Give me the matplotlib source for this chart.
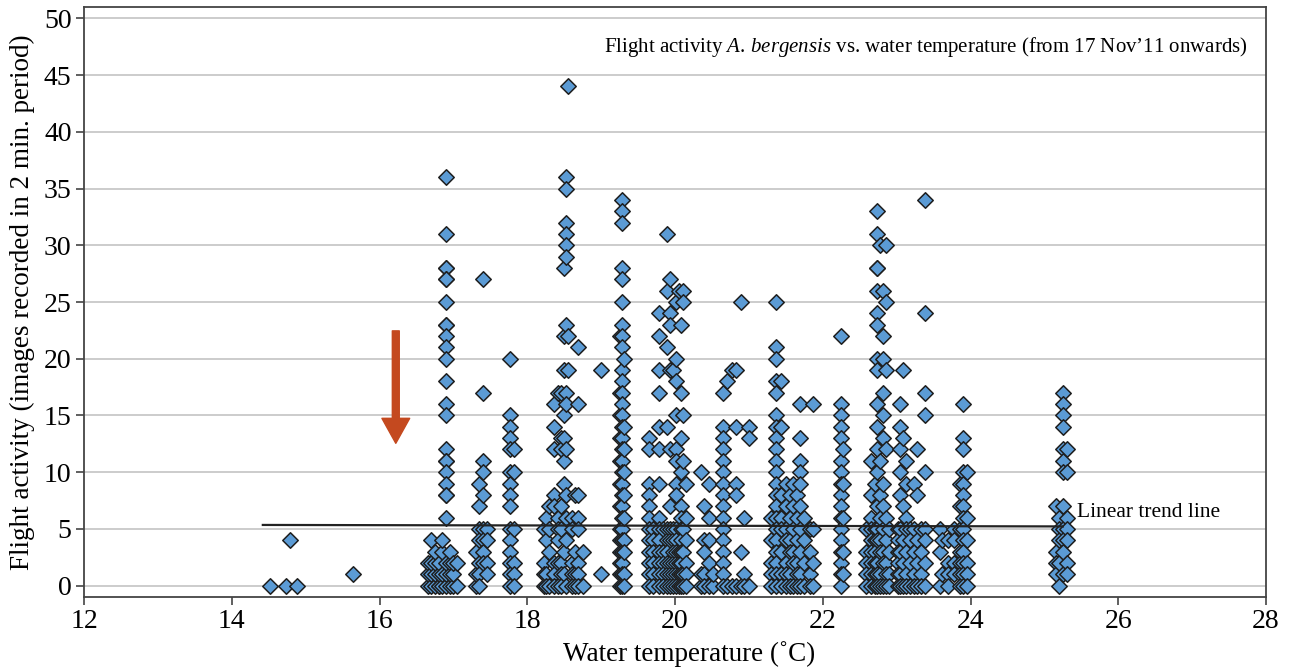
import matplotlib
matplotlib.use("Agg")
import matplotlib.pyplot as plt
from matplotlib.patches import FancyArrowPatch

plt.rcParams["font.family"] = ["Liberation Serif", "DejaVu Serif"]
plt.rcParams["mathtext.fontset"] = "custom"
plt.rcParams["mathtext.rm"] = "Liberation Serif"
plt.rcParams["mathtext.it"] = "Liberation Serif:italic"

# water temperature (deg C) of each vertical group of readings
col_temp = [
    14.52, 14.73, 14.79, 14.88, 15.64,
    16.65, 16.7, 16.75, 16.8, 16.85, 16.9, 16.95, 17.0, 17.05,
    17.3, 17.35, 17.4, 17.45,
    17.77, 17.82,
    18.22, 18.25, 18.3, 18.36, 18.41, 18.45, 18.5, 18.53, 18.55, 18.6, 18.64, 18.69, 18.75,
    19.0,
    19.25, 19.28, 19.31,
    19.65, 19.7, 19.78, 19.84, 19.89, 19.93, 19.97, 20.01, 20.05, 20.08, 20.11, 20.15,
    20.35, 20.39, 20.46, 20.51, 20.65, 20.7, 20.77, 20.83, 20.89, 20.94, 21.0,
    21.3, 21.37, 21.44, 21.5, 21.55, 21.6, 21.65, 21.69, 21.75, 21.82, 21.87,
    22.25, 22.28,
    22.58, 22.65, 22.7, 22.73, 22.78, 22.82, 22.86, 22.9,
    23.02, 23.05, 23.09, 23.13, 23.18, 23.24, 23.28, 23.33, 23.38,
    23.58, 23.62, 23.7, 23.78, 23.86, 23.9, 23.95,
    25.15, 25.2, 25.25, 25.3,
]

# flight activity (images per 2 min.) recorded at each of those temperatures
col_counts = [
    [0], [0], [4], [0], [1],
    [0, 1, 2], [0, 1, 4, 2], [0, 1, 2, 3], [0, 0, 1, 2], [0, 1, 3, 4],
    [36, 31, 28, 28, 27, 27, 25, 23, 23, 22, 21, 20, 18, 16, 15, 12, 11, 11, 10, 9, 8, 8, 6, 0, 1, 2],
    [0, 1, 2, 3], [0, 1, 2], [0, 2],
    [0, 3, 1], [5, 4, 2, 1, 0, 9, 7], [27, 17, 11, 10, 8, 5, 4, 3, 2], [5, 4, 2, 1],
    [20, 15, 14, 13, 12, 10, 9, 8, 7, 5, 4, 3, 2, 1, 0], [12, 10, 5, 2, 1, 0],
    [5, 2, 1, 0], [6, 4, 1, 0], [7, 5, 3, 0], [16, 14, 12, 8, 7, 2, 1, 0],
    [17, 6, 5, 4, 2, 0], [17, 13, 12, 7, 5, 2, 1, 0], [28, 22, 19, 15, 13, 11, 9, 3, 1],
    [36, 35, 32, 31, 30, 29, 23, 17, 16, 12, 8, 6, 4, 0], [44, 22, 19],
    [6, 5, 2, 1, 0], [8, 3, 1, 0], [21, 16, 8, 6, 5, 2, 1, 0], [3, 0],
    [19, 1],
    [22, 17, 15, 13, 11, 9, 7, 5, 4, 3, 2, 1, 0],
    [34, 33, 32, 28, 27, 25, 23, 22, 21, 19, 18, 17, 16, 15, 14, 13, 12, 11, 10, 9, 8, 7, 6, 5, 4, 3, 2, 1, 0],
    [20, 14, 12, 10, 8, 6, 4, 3, 1, 0],
    [13, 12, 9, 8, 7, 6, 5, 4, 3, 2, 1, 0], [5, 4, 3, 2, 1, 0],
    [24, 22, 19, 17, 14, 12, 9, 6, 5, 4, 3, 2, 1, 0], [5, 3, 2, 1, 0],
    [31, 26, 21, 14, 5, 4, 3, 2, 1, 0], [27, 24, 23, 19, 12, 7, 5, 4, 2, 1, 0],
    [19, 5, 4, 3, 2, 1, 0], [25, 20, 18, 15, 12, 11, 9, 8, 5, 4, 3, 2, 1, 0],
    [26, 3, 2, 1, 0], [23, 17, 13, 10, 7, 6, 5, 4, 3, 2, 1, 0],
    [26, 25, 15, 11, 5, 3, 1, 0], [9, 6, 4, 2, 1, 0],
    [10, 0, 1], [7, 4, 3, 1, 0], [9, 6, 4, 2, 0], [0, 1],
    [17, 14, 13, 12, 11, 10, 9, 8, 7, 6, 5, 4, 3, 2, 1, 0],
    [18, 0], [19, 0], [19, 14, 9, 8, 0], [25, 3, 0], [6, 1, 0], [14, 13, 0],
    [6, 4, 2, 1, 0],
    [25, 21, 20, 18, 17, 15, 14, 13, 12, 11, 10, 9, 8, 7, 6, 5, 4, 3, 2, 1, 0],
    [18, 14, 8, 6, 5, 3, 1, 0], [9, 7, 5, 4, 2, 1, 0], [8, 6, 4, 3, 1, 0],
    [9, 7, 5, 3, 2, 0], [8, 6, 4, 2, 1, 0], [16, 13, 11, 10, 9, 7, 5, 3, 1, 0],
    [6, 4, 2, 0], [5, 3, 1, 0], [16, 5, 2, 0],
    [22, 16, 15, 14, 13, 11, 10, 9, 8, 7, 6, 5, 4, 3, 2, 1, 0], [12, 9, 6, 3, 1],
    [5, 3, 2, 1, 0], [11, 8, 6, 5, 4, 3, 2, 1, 0], [9, 5, 4, 3, 2, 1, 0],
    [33, 31, 28, 28, 26, 24, 23, 20, 19, 16, 14, 12, 10, 7, 5, 4, 2, 1, 0],
    [30, 11, 8, 6, 4, 3, 1, 0], [26, 22, 20, 17, 15, 13, 9, 7, 5, 3, 2, 0],
    [30, 25, 19, 12, 6, 4, 2, 1, 0], [5, 3, 1, 0],
    [5, 4, 3, 2, 1, 0], [16, 14, 12, 10, 8, 5, 3, 1, 0], [19, 13, 7, 4, 2, 0],
    [11, 9, 6, 5, 3, 1, 0], [5, 4, 2, 0], [9, 5, 3, 1, 0], [12, 8, 4, 2, 0],
    [5, 3, 1, 0], [34, 24, 17, 15, 10, 5, 4, 2, 0],
    [5, 3, 0], [4, 1], [4, 2, 1, 0], [5, 4, 2, 1], [9, 7, 5, 3, 2, 1, 0],
    [16, 13, 12, 10, 9, 8, 7, 6, 5, 4, 3, 2, 1, 0], [10, 6, 4, 2, 1, 0],
    [7, 3, 2, 1], [6, 5, 4, 2, 0], [17, 16, 15, 14, 12, 11, 10, 7, 5, 4, 3, 1],
    [12, 10, 6, 5, 4, 2, 1],
]

# linear trend line end points
trend_temp = [14.42, 25.25]
trend_count = [5.35, 5.22]

x_ticks = [12, 14, 16, 18, 20, 22, 24, 26, 28]
y_ticks = [0, 5, 10, 15, 20, 25, 30, 35, 40, 45, 50]

temps = [t for t, cs in zip(col_temp, col_counts) for _ in cs]
counts = [c for cs in col_counts for c in cs]

fig = plt.figure(figsize=(12.89, 6.68), dpi=100)
ax = fig.add_axes([0.0652, 0.1063, 0.917, 0.8832])

ax.scatter(temps, counts, marker="D", s=62, facecolor="#5b9bd5",
           edgecolor="#1e1e1e", linewidth=1.1, zorder=3)
ax.plot(trend_temp, trend_count, color="#222222", linewidth=1.6, zorder=4)

ax.set_xlim(12, 28)
ax.set_ylim(-1, 51)
ax.set_xticks(x_ticks)
ax.set_yticks(y_ticks)
ax.yaxis.grid(True, color="#c4c4c4", linewidth=1.2)
ax.set_axisbelow(True)
for s in ax.spines.values():
    s.set_color("#444444")
    s.set_linewidth(1.3)
ax.tick_params(axis="both", labelsize=20, length=6, width=1.2,
               color="#444444", pad=3)

ax.set_xlabel("Water temperature (\u02daC)", fontsize=19.5, labelpad=3)
ax.xaxis.set_label_coords(0.512, -0.075)
ax.set_ylabel("Flight activity (images recorded in 2 min. period)",
              fontsize=19.5, labelpad=6)

ax.text(27.75, 47.5,
        r"Flight activity $\mathit{A.\,bergensis}$ vs. water temperature (from 17 Nov’11 onwards)",
        fontsize=15, ha="right", va="center")
ax.text(25.44, 6.45, "Linear trend line", fontsize=15.5, ha="left", va="center")

# red arrow marking the start of flight activity
arrow = FancyArrowPatch((16.22, 22.7), (16.22, 12.3),
                        arrowstyle="simple,head_length=1.8,head_width=2.0,tail_width=0.5",
                        mutation_scale=10, color="#c4491f", zorder=5)
ax.add_patch(arrow)

fig.savefig("out.png", dpi=100)
